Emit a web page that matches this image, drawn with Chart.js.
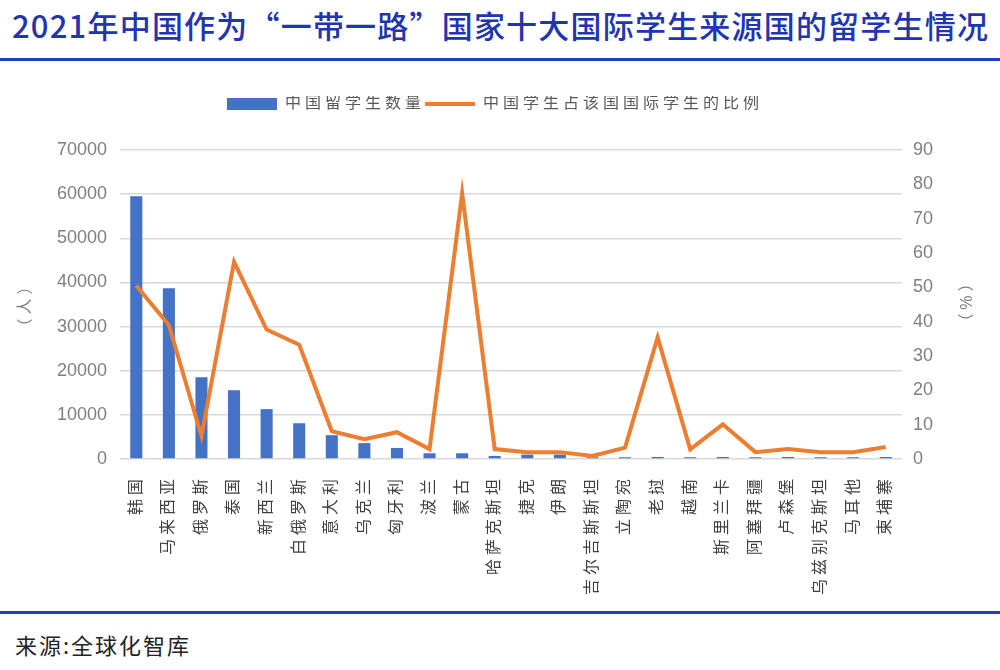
<!DOCTYPE html>
<html>
<head>
<meta charset="utf-8">
<script src="https://cdn.jsdelivr.net/npm/chart.js@4"></script>
<style>
  body { margin: 0; width: 1000px; height: 670px; background: #fff; position: relative; overflow: hidden; font-family: "Noto Sans CJK SC", sans-serif; }
  #title { position: absolute; left: 12px; top: 2px; font-size: 31px; letter-spacing: 1.2px; font-weight: 500; color: #2234b0; white-space: nowrap; }
  .rule { position: absolute; left: 0; width: 1000px; height: 3px; background: #1e3fbf; }
  #source { position: absolute; left: 15px; top: 628px; font-size: 22px; letter-spacing: 2px; color: #222; }
  #wrap { position: absolute; left: 0; top: 62px; width: 1000px; height: 543px; }
</style>
</head>
<body>
<div id="title">2021年中国作为“一带一路”国家十大国际学生来源国的留学生情况</div>
<div class="rule" style="top:58px"></div>
<div id="wrap"><canvas id="chart"></canvas></div>
<div class="rule" style="top:611px"></div>
<div id="source">来源:全球化智库</div>
<script>
const countries = ["韩国", "马来西亚", "俄罗斯", "泰国", "新西兰", "白俄罗斯", "意大利", "乌克兰", "匈牙利", "波兰", "蒙古", "哈萨克斯坦", "捷克", "伊朗", "吉尔吉斯斯坦", "立陶宛", "老挝", "越南", "斯里兰卡", "阿塞拜疆", "卢森堡", "乌兹别克斯坦", "马耳他", "柬埔寨"]
const studentCounts = [59500, 38700, 18500, 15600, 11300, 8100, 5400, 3600, 2500, 1300, 1300, 700, 1000, 1000, 400, 400, 450, 400, 450, 400, 450, 400, 400, 450]
const sharePercent = [50.5, 39, 6.7, 57.4, 37.7, 33.3, 8.1, 5.8, 7.8, 2.9, 77.4, 2.9, 2, 2, 0.9, 3.3, 35.4, 2.8, 10.1, 2, 2.9, 2, 2, 3.5]
const seriesNames = ["中国留学生数量", "中国学生占该国国际学生的比例"]
const axisTitles = ["（人）", "（%）"]

const cjk = '"Liberation Sans", "Noto Sans CJK SC", sans-serif'

// wider character spacing like the source, but keep the numbers tight
const spacing = {
  id: "spacing",
  beforeInit(chart) {
    const fit = chart.legend.fit
    chart.legend.fit = function () {
      fit.bind(chart.legend)()
      this.height += 28
    }
  },
  beforeLayout(chart) { chart.ctx.letterSpacing = "4px" },
  beforeDraw(chart) {
    chart.ctx.letterSpacing = "4px"
    ;["y", "y1"].forEach((id) => {
      const s = chart.scales[id]
      if (s && !s._wrapped) {
        const orig = s.drawLabels
        s.drawLabels = function (area) {
          const ctx = this.ctx
          ctx.save()
          ctx.letterSpacing = "0px"
          orig.call(this, area)
          ctx.restore()
        }
        s._wrapped = true
      }
    })
  },
}

const ctx = document.getElementById("chart").getContext("2d")
new Chart(ctx, {
  data: {
    labels: countries,
    datasets: [
      {
        type: "line",
        label: seriesNames[1],
        data: sharePercent,
        yAxisID: "y1",
        borderColor: "#ed7d31",
        borderWidth: 4,
        pointRadius: 0,
        tension: 0,
        order: 1,
      },
      {
        type: "bar",
        label: seriesNames[0],
        data: studentCounts,
        yAxisID: "y",
        backgroundColor: "#4472c4",
        categoryPercentage: 1,
        barPercentage: 0.37,
        order: 2,
      },
    ],
  },
  options: {
    responsive: true,
    maintainAspectRatio: false,
    animation: false,
    layout: { padding: { top: 34, left: 16, right: 26, bottom: 0 } },
    scales: {
      x: {
        grid: { display: false },
        border: { display: false },
        afterFit: (s) => { s.height = 146 },
        ticks: {
          autoSkip: false,
          minRotation: 90,
          maxRotation: 90,
          padding: 8,
          color: "#404040",
          font: { family: cjk, size: 16 },
        },
      },
      y: {
        position: "left",
        min: 0,
        max: 70000,
        afterFit: (s) => { s.width = 104 },
        grid: { color: "#d9d9d9", lineWidth: 1.5, drawTicks: false },
        border: { display: false },
        ticks: { stepSize: 10000, padding: 13, color: "#7f7f7f", font: { family: cjk, size: 18 }, callback: (v) => String(v) },
        title: { display: true, text: axisTitles[0], color: "#7f7f7f", padding: 0, font: { family: cjk, size: 16 } },
      },
      y1: {
        position: "right",
        min: 0,
        max: 90,
        afterFit: (s) => { s.width = 72 },
        grid: { display: false, drawTicks: false },
        border: { display: false },
        ticks: { stepSize: 10, padding: 11, color: "#7f7f7f", font: { family: cjk, size: 18 }, callback: (v) => String(v) },
        title: { display: true, text: axisTitles[1], color: "#7f7f7f", padding: 0, font: { family: cjk, size: 16 } },
      },
    },
    plugins: {
      tooltip: { enabled: false },
      legend: {
        display: true,
        position: "top",
        labels: {
          usePointStyle: true,
          pointStyleWidth: 50,
          boxHeight: 12,
          padding: 0,
          color: "#595959",
          font: { family: cjk, size: 16 },
          generateLabels: () => [
            { text: seriesNames[0], fillStyle: "#4472c4", strokeStyle: "#4472c4", lineWidth: 0, pointStyle: "rect", datasetIndex: 1, fontColor: "#595959" },
            { text: seriesNames[1], fillStyle: "#ed7d31", strokeStyle: "#ed7d31", lineWidth: 4, pointStyle: "line", datasetIndex: 0, fontColor: "#595959" },
          ],
        },
      },
    },
  },
  plugins: [spacing],
})
</script>
</body>
</html>
